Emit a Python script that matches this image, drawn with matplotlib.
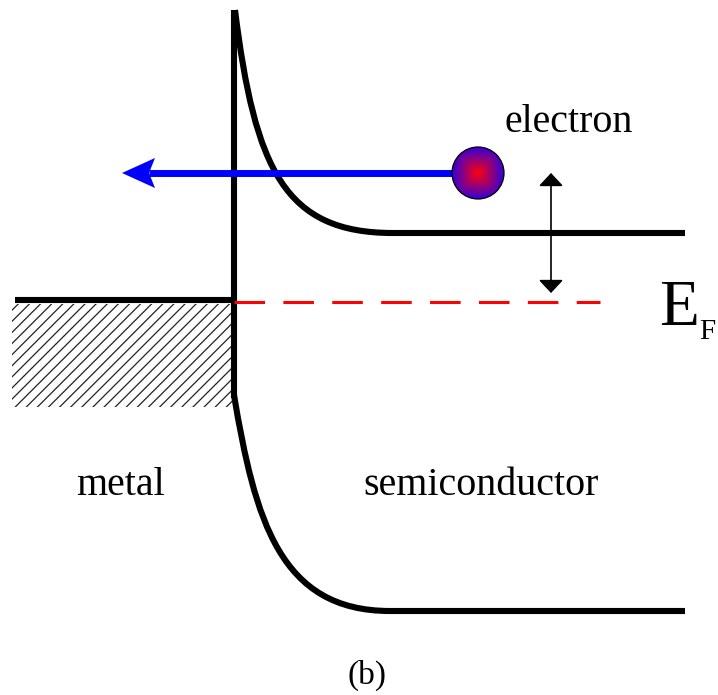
import matplotlib
matplotlib.use("Agg")
import matplotlib.pyplot as plt
import numpy as np
from matplotlib.patches import Rectangle, Circle, FancyArrowPatch, PathPatch
from matplotlib.path import Path

plt.rcParams['font.family'] = ['Liberation Serif', 'DejaVu Serif']
plt.rcParams['hatch.linewidth'] = 0.9

# band diagram geometry (pixel units, y grows downward)
interface_x = 234
# conduction band: bezier bend (start, ctrl, ctrl, end) then flat to the right
cb_bend = [(235, 10), (255, 170), (285, 233), (393, 233)]
cb_end_x = 685
# valence band: bezier bend then flat
vb_bend = [(234, 395), (255, 520), (280, 611), (390, 611)]
vb_end_x = 685
metal_ef_x = [15, 234]
metal_ef_y = [300, 300]
semi_ef_x = [234, 600]
semi_ef_y = [302, 302]
hatch_box = (12, 304, 220, 103)       # x, y, width, height
electron_xy = (478, 173)
electron_r = 26
flight_y = 173
flight_tip = 122
gap_arrow_x = 551
gap_arrow_y = [173, 293]

fig = plt.figure(figsize=(7.18, 6.95), dpi=100)
ax = fig.add_axes([0, 0, 1, 1])
ax.set_xlim(0, 718)
ax.set_ylim(695, 0)
ax.axis('off')

lw = 4.4


def band(bend, end_x):
    verts = list(bend) + [(end_x, bend[-1][1])]
    codes = [Path.MOVETO, Path.CURVE4, Path.CURVE4, Path.CURVE4, Path.LINETO]
    return PathPatch(Path(verts, codes), facecolor='none', edgecolor='k', lw=lw,
                     capstyle='butt', joinstyle='round')


# metal hatched region
ax.add_patch(Rectangle(hatch_box[:2], hatch_box[2], hatch_box[3], facecolor='none',
                       edgecolor='#222222', linewidth=0, hatch='///'))

# interface and bands
ax.plot([interface_x, interface_x], [cb_bend[0][1], vb_bend[0][1] + 3], color='k', lw=lw,
        solid_capstyle='butt')
ax.add_patch(band(cb_bend, cb_end_x))
ax.add_patch(band(vb_bend, vb_end_x))
ax.plot(metal_ef_x, metal_ef_y, color='k', lw=lw, solid_capstyle='butt')
ax.plot(semi_ef_x, semi_ef_y, color='red', lw=2.2, linestyle=(0, (10, 6)), dash_capstyle='butt')

# electron flying back to the metal
head_len, head_w, notch = 33, 15, 6
ax.plot([electron_xy[0] - electron_r + 2, flight_tip + head_len - notch], [flight_y, flight_y],
        color='blue', lw=5, solid_capstyle='butt')
ax.fill([flight_tip, flight_tip + head_len, flight_tip + head_len - notch, flight_tip + head_len],
        [flight_y, flight_y - head_w, flight_y, flight_y + head_w], color='blue', lw=0)

# the electron: red centre fading to blue
cx, cy = electron_xy
g = np.linspace(-1, 1, 201)
gx, gy = np.meshgrid(g, g)
t = np.clip(np.maximum(np.abs(gx), np.abs(gy)) * 0.55 + np.hypot(gx, gy) * 0.45, 0, 1)
red = np.array([1.0, 0.0, 0.05])
blue = np.array([0.2, 0.0, 0.85])
img = (1 - t[..., None]) * red + t[..., None] * blue
im = ax.imshow(img, extent=(cx - electron_r, cx + electron_r, cy + electron_r, cy - electron_r),
               interpolation='bilinear', zorder=3)
ball = Circle(electron_xy, electron_r, facecolor='none', edgecolor='k', lw=0.9, zorder=4)
ax.add_patch(ball)
im.set_clip_path(ball)

# barrier height arrow
ax.add_patch(FancyArrowPatch((gap_arrow_x, gap_arrow_y[0]), (gap_arrow_x, gap_arrow_y[1]),
                             arrowstyle='<|-|>,head_length=8,head_width=7.5', mutation_scale=1,
                             color='k', lw=1.2, shrinkA=0, shrinkB=0))

# labels
fs = 28.8
ax.text(505, 132, 'electron', fontsize=fs, ha='left', va='baseline')
ax.text(76, 495, 'metal', fontsize=fs, ha='left', va='baseline')
ax.text(363, 495, 'semiconductor', fontsize=fs, ha='left', va='baseline')
ax.text(659, 325, 'E', fontsize=47, ha='left', va='baseline')
ax.text(699, 339, 'F', fontsize=21, ha='left', va='baseline')
ax.text(367, 684, '(b)', fontsize=24, ha='center', va='baseline')

fig.savefig('out.png', dpi=100)
